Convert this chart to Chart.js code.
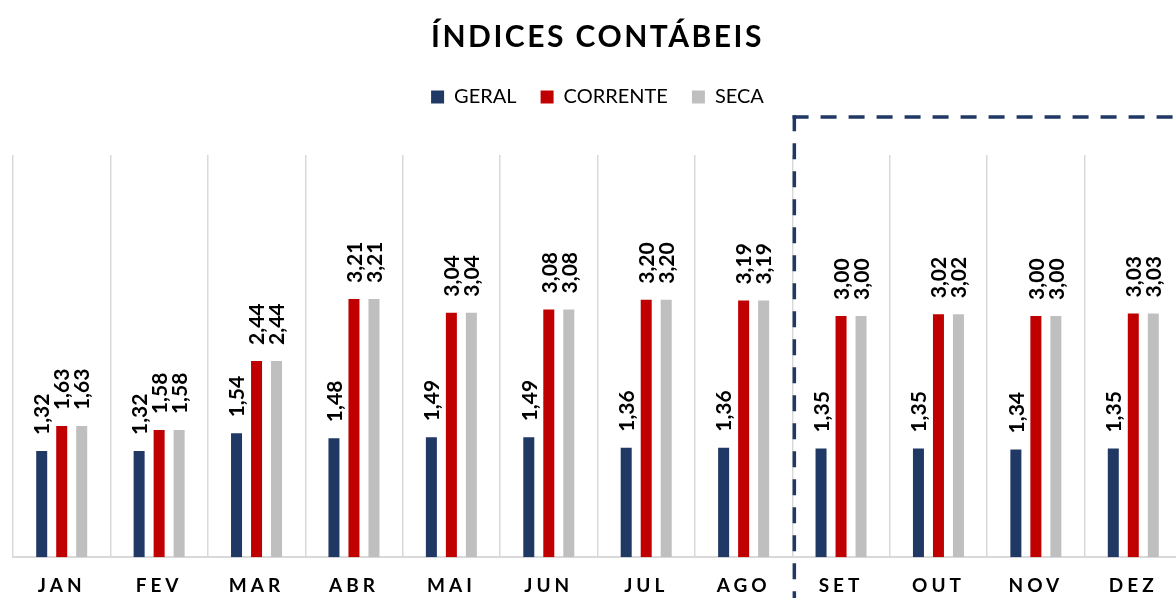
<!DOCTYPE html>
<html>
<head>
<meta charset="utf-8">
<script src="https://cdn.jsdelivr.net/npm/chart.js@4.4.1/dist/chart.umd.min.js"></script>
<style>
  html, body { margin: 0; padding: 0; background: #ffffff; overflow: hidden; }
  #wrap { width: 1176px; height: 603px; overflow: hidden; }
  canvas { display: block; }
</style>
</head>
<body>
<div id="wrap"><canvas id="c" width="1192" height="603"></canvas></div>
<script>
const categories = ['JAN','FEV','MAR','ABR','MAI','JUN','JUL','AGO','SET','OUT','NOV','DEZ'];
const geral    = [1.32, 1.32, 1.54, 1.48, 1.49, 1.49, 1.36, 1.36, 1.35, 1.35, 1.34, 1.35];
const corrente = [1.63, 1.58, 2.44, 3.21, 3.04, 3.08, 3.20, 3.19, 3.00, 3.02, 3.00, 3.03];
const seca     = [1.63, 1.58, 2.44, 3.21, 3.04, 3.08, 3.20, 3.19, 3.00, 3.02, 3.00, 3.03];
const seriesNames = ['GERAL', 'CORRENTE', 'SECA'];
const titleText = 'ÍNDICES CONTÁBEIS';
const highlightFrom = 'SET';

const FONT = 'Lato';

const spacingPlugin = {
  id: 'spacing',
  beforeLayout(chart) {
    const lg = chart.legend;
    if (lg && !lg._patched) {
      const of = lg.fit;
      lg.fit = function () { of.apply(this, arguments); this.height += 38; };
      lg._patched = true;
    }
  },
  beforeDraw(chart) {
    const tb = chart.titleBlock;
    if (tb && !tb._patched) {
      const od = tb.draw;
      tb.draw = function () {
        const c = this.ctx; c.save(); c.letterSpacing = '2.5px';
        od.apply(this, arguments); c.restore();
      };
      tb._patched = true;
    }
    const xs = chart.scales.x;
    if (xs && !xs._patched) {
      const ol = xs.drawLabels;
      xs.drawLabels = function () {
        const c = this.ctx; c.save(); c.letterSpacing = '4px';
        ol.apply(this, arguments); c.restore();
      };
      xs._patched = true;
    }
  }
};

const valueLabels = {
  id: 'valueLabels',
  afterDatasetsDraw(chart) {
    const ctx = chart.ctx;
    ctx.save();
    ctx.font = 'bold 21px ' + FONT;
    ctx.fillStyle = '#000000';
    ctx.textAlign = 'left';
    ctx.textBaseline = 'middle';
    chart.data.datasets.forEach((ds, di) => {
      const meta = chart.getDatasetMeta(di);
      meta.data.forEach((bar, i) => {
        const txt = ds.data[i].toFixed(2).replace('.', ',');
        ctx.save();
        ctx.translate(bar.x + 1, bar.y - 16);
        ctx.rotate(-Math.PI / 2);
        ctx.fillText(txt, 0, 0);
        ctx.restore();
      });
    });
    ctx.restore();
  }
};

const dashedBox = {
  id: 'dashedBox',
  afterDraw(chart) {
    const xs = chart.scales.x;
    const idx = categories.indexOf(highlightFrom);
    const x = (xs.getPixelForValue(idx - 1) + xs.getPixelForValue(idx)) / 2 + 2;
    const yTop = chart.chartArea.top - 38;
    const yBot = chart.height - 5;
    const ctx = chart.ctx;
    ctx.save();
    ctx.strokeStyle = '#1f3864';
    ctx.lineWidth = 3.5;
    ctx.setLineDash([16, 12]);
    ctx.beginPath();
    ctx.moveTo(x, yTop - 1.75);
    ctx.lineTo(x, yBot);
    ctx.stroke();
    ctx.beginPath();
    ctx.moveTo(x - 1.75, yTop);
    ctx.lineTo(chart.width, yTop);
    ctx.stroke();
    ctx.restore();
  }
};

const colors = ['#1f3864', '#c00000', '#bfbfbf'];
const values = [geral, corrente, seca];

new Chart(document.getElementById('c'), {
  type: 'bar',
  data: {
    labels: categories,
    datasets: seriesNames.map((n, k) => ({
      label: n,
      data: values[k],
      backgroundColor: colors[k],
      borderWidth: 0,
      categoryPercentage: 0.616,
      barPercentage: 0.55
    }))
  },
  options: {
    responsive: false,
    animation: false,
    devicePixelRatio: 1,
    layout: { padding: { left: 13, right: 10, top: 0, bottom: 4 } },
    plugins: {
      title: {
        display: true,
        text: titleText,
        color: '#000000',
        font: { family: FONT, size: 30, weight: 'bold' },
        padding: { top: 19, bottom: 8 }
      },
      legend: {
        display: true,
        position: 'top',
        labels: {
          color: '#000000',
          font: { family: FONT, size: 20 },
          boxWidth: 13,
          boxHeight: 13,
          padding: 24
        }
      },
      tooltip: { enabled: false }
    },
    scales: {
      x: {
        grid: { offset: true, color: '#d9d9d9', lineWidth: 1.5, drawTicks: false },
        border: { color: '#d9d9d9', width: 2 },
        ticks: {
          color: '#000000',
          font: { family: FONT, size: 19, weight: 'bold' },
          padding: 17,
          maxRotation: 0
        },
        afterFit(scale) { scale.height -= 15; }
      },
      y: {
        display: false,
        min: 0,
        max: 5
      }
    }
  },
  plugins: [spacingPlugin, valueLabels, dashedBox]
});
</script>
</body>
</html>
